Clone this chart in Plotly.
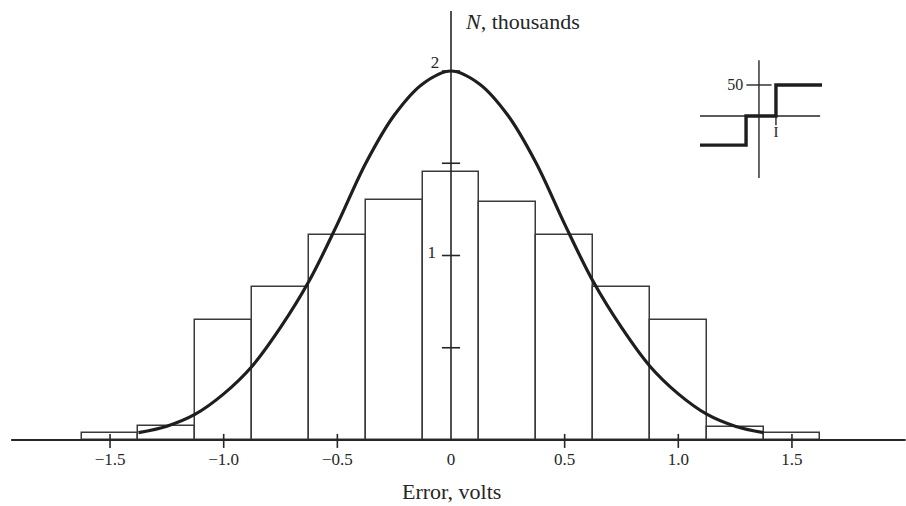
import plotly.graph_objects as go

# Histogram of quantization error (bins 0.25 V wide), counts in thousands
bin_centers = [-1.5, -1.25, -1.0, -0.75, -0.5, -0.25, 0.0, 0.25, 0.5, 0.75, 1.0, 1.25, 1.5]
bin_counts = [0.04, 0.075, 0.65, 0.83, 1.11, 1.30, 1.45, 1.29, 1.11, 0.83, 0.65, 0.07, 0.04]
bin_width = 0.25

# Fitted normal curve, sampled points
curve_x = [-1.375, -1.25, -1.125, -1.0, -0.875, -0.75, -0.625, -0.5, -0.375, -0.25, -0.125, 0.0,
           0.125, 0.25, 0.375, 0.5, 0.625, 0.75, 0.875, 1.0, 1.125, 1.25, 1.375]
curve_y = [0.04, 0.075, 0.14, 0.25, 0.40, 0.61, 0.86, 1.17, 1.50, 1.76, 1.93, 2.0,
           1.93, 1.76, 1.50, 1.17, 0.86, 0.61, 0.40, 0.25, 0.14, 0.075, 0.04]

# Axis ticks and labels
x_ticks = [-1.5, -1.0, -0.5, 0.5, 1.0, 1.5]
x_label_vals = [-1.5, -1.0, -0.5, 0.0, 0.5, 1.0, 1.5]
x_label_text = ["\u22121.5", "\u22121.0", "\u22120.5", "0", "0.5", "1.0", "1.5"]
y_ticks = [0.5, 1.0, 1.5, 2.0]
y_label_vals = [1.0, 2.0]
y_label_text = ["1", "2"]

# Inset: quantizer staircase characteristic
step_x = [-3.47, -0.76, -0.76, 1.0, 1.0, 3.71]
step_y = [-47, -47, 0, 0, 50, 50]

INK = "#262626"
FONT = "Liberation Serif"

# pixel scale of the main axes
X0, XS = 451, 227.3
Y0, YS = 440, 184.5

fig = go.Figure()

fig.add_trace(go.Bar(
    x=bin_centers, y=bin_counts, width=bin_width,
    marker=dict(color="white", line=dict(color="#3a3a3a", width=1.5)),
    hoverinfo="skip",
))

# Horizontal axis line
fig.add_trace(go.Scatter(x=[-1.935, 2.0], y=[0, 0], mode="lines",
                         line=dict(color=INK, width=2), hoverinfo="skip"))
# Vertical axis line
fig.add_trace(go.Scatter(x=[0, 0], y=[0, 2.325], mode="lines",
                         line=dict(color=INK, width=1.6), hoverinfo="skip"))

# Tick marks crossing the axes
fig.add_trace(go.Scatter(x=x_ticks, y=[-0.005] * len(x_ticks), mode="markers",
                         marker=dict(symbol="line-ns", size=10, line=dict(color=INK, width=1.6)),
                         hoverinfo="skip"))
fig.add_trace(go.Scatter(x=[0] * len(y_ticks), y=y_ticks, mode="markers",
                         marker=dict(symbol="line-ew", size=13, line=dict(color=INK, width=1.6)),
                         hoverinfo="skip"))

# Normal curve
fig.add_trace(go.Scatter(x=curve_x, y=curve_y, mode="lines",
                         line=dict(color="#1e1e1e", width=3.2, shape="spline", smoothing=1.0),
                         hoverinfo="skip"))

# Tick labels
fig.add_trace(go.Scatter(x=x_label_vals, y=[-0.11] * len(x_label_vals), mode="text",
                         text=x_label_text, textposition="middle center",
                         textfont=dict(family=FONT, size=17, color=INK), hoverinfo="skip"))
fig.add_trace(go.Scatter(x=[-0.085, -0.07], y=[y_label_vals[0] + 0.01, y_label_vals[1] + 0.04],
                         mode="text", text=y_label_text, textposition="middle center",
                         textfont=dict(family=FONT, size=17, color=INK), hoverinfo="skip"))

# Inset staircase
fig.add_trace(go.Scatter(x=[-3.47, 3.6], y=[0, 0], mode="lines", xaxis="x2", yaxis="y2",
                         line=dict(color=INK, width=1.4), hoverinfo="skip"))
fig.add_trace(go.Scatter(x=[0, 0], y=[90, -100], mode="lines", xaxis="x2", yaxis="y2",
                         line=dict(color=INK, width=1.4), hoverinfo="skip"))
fig.add_trace(go.Scatter(x=[0], y=[50], mode="markers", xaxis="x2", yaxis="y2",
                         marker=dict(symbol="line-ew", size=18, line=dict(color=INK, width=1.4)),
                         hoverinfo="skip"))
fig.add_trace(go.Scatter(x=[1.0], y=[-6], mode="markers", xaxis="x2", yaxis="y2",
                         marker=dict(symbol="line-ns", size=8, line=dict(color=INK, width=1.4)),
                         hoverinfo="skip"))
fig.add_trace(go.Scatter(x=step_x, y=step_y, mode="lines", xaxis="x2", yaxis="y2",
                         line=dict(color="#1e1e1e", width=3.4), hoverinfo="skip"))
fig.add_trace(go.Scatter(x=[-1.4], y=[48], mode="text", text=["50"], xaxis="x2", yaxis="y2",
                         textposition="middle center",
                         textfont=dict(family=FONT, size=16, color=INK), hoverinfo="skip"))
fig.add_trace(go.Scatter(x=[1.0], y=[-28], mode="text", text=["I"], xaxis="x2", yaxis="y2",
                         textposition="middle center",
                         textfont=dict(family=FONT, size=15, color=INK), hoverinfo="skip"))

fig.add_annotation(x=0.053, y=2.27, xref="x", yref="y", showarrow=False,
                   text="<i>N</i>, thousands", xanchor="left", yanchor="middle",
                   font=dict(family=FONT, size=22, color=INK))
fig.add_annotation(x=0.0, y=-0.28, xref="x", yref="y", showarrow=False,
                   text="Error, volts", xanchor="center", yanchor="middle",
                   font=dict(family=FONT, size=22, color=INK))

fig.update_layout(
    width=906, height=506,
    margin=dict(l=0, r=0, t=0, b=0),
    paper_bgcolor="white", plot_bgcolor="white",
    showlegend=False, bargap=0,
    xaxis=dict(range=[-X0 / XS, (906 - X0) / XS], visible=False, fixedrange=True),
    yaxis=dict(range=[-(506 - Y0) / YS, Y0 / YS], visible=False, fixedrange=True),
    xaxis2=dict(domain=[700 / 906, 822 / 906], range=[-3.47, 3.71], visible=False,
                anchor="y2", fixedrange=True),
    yaxis2=dict(domain=[1 - 178 / 506, 1 - 60 / 506], range=[-100, 90.3], visible=False,
                anchor="x2", fixedrange=True),
)

fig.write_html("out.html", config={"displayModeBar": False})
